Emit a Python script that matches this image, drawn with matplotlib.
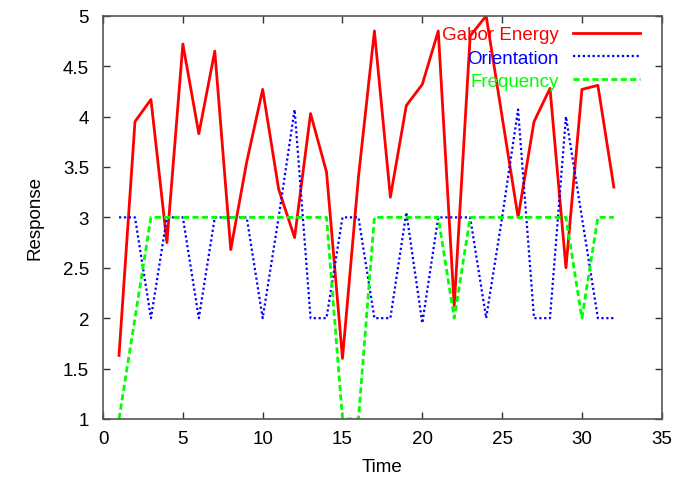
import matplotlib
matplotlib.use("Agg")
import matplotlib.pyplot as plt

plt.rcParams['font.family'] = ['Liberation Sans', 'DejaVu Sans']

time = list(range(1, 33))
gabor_energy = [1.63, 3.95, 4.17, 2.75, 4.72, 3.83, 4.65, 2.68, 3.55, 4.27,
                3.28, 2.8, 4.03, 3.45, 1.6, 3.4, 4.85, 3.2, 4.11, 4.32,
                4.85, 2.12, 4.8, 5.0, 4.0, 3.0, 3.95, 4.28, 2.5, 4.27,
                4.31, 3.3]
orientation = [3, 3, 2, 3, 3, 2, 3, 3, 3, 2,
               3, 4.07, 2, 2, 3, 3, 2, 2, 3.05, 1.95,
               3, 3, 3, 2, 3, 4.07, 2, 2, 4.0, 3.0,
               2, 2]
frequency = [1, 2, 3, 3, 3, 3, 3, 3, 3, 3,
             3, 3, 3, 3, 1, 1, 3, 3, 3, 3,
             3, 2, 3, 3, 3, 3, 3, 3, 3, 2,
             3, 3]

fs = 13.5
fig = plt.figure(figsize=(6.78, 4.81), dpi=100)
ax = fig.add_axes([0.152, 0.127, 0.824, 0.838])

ax.plot(time, gabor_energy, color='#ff0000', lw=2, label='Gabor Energy')
ax.plot(time, orientation, color='#0000ff', lw=1.6, linestyle=(0, (1, 1.2)),
        label='Orientation')
ax.plot(time, frequency, color='#00ff00', lw=2, linestyle=(0, (2.2, 1.2)),
        label='Frequency')

ax.set_xlim(0, 35)
ax.set_ylim(1, 5)
ax.set_xticks(range(0, 36, 5))
ax.set_yticks([1, 1.5, 2, 2.5, 3, 3.5, 4, 4.5, 5])
ax.set_yticklabels(['1', '1.5', '2', '2.5', '3', '3.5', '4', '4.5', '5'])
ax.tick_params(direction='in', top=True, right=True, labelsize=fs,
               length=5, width=1, color='#333333')
ax.tick_params(axis='x', pad=8)
ax.tick_params(axis='y', pad=10)
for s in ax.spines.values():
    s.set_color('#555555')
    s.set_linewidth(1.2)

ax.set_xlabel('Time', fontsize=fs, labelpad=8)
ax.set_ylabel('Response', fontsize=fs, labelpad=14)

leg = ax.legend(loc='upper right', frameon=False, markerfirst=False,
                fontsize=fs, handlelength=3.6, labelspacing=0.33,
                borderaxespad=0, borderpad=0.3, handletextpad=0.75,
                labelcolor=['#ff0000', '#0000ff', '#00ff00'],
                bbox_to_anchor=(0.972, 0.988))

fig.savefig('out.png', dpi=100)
